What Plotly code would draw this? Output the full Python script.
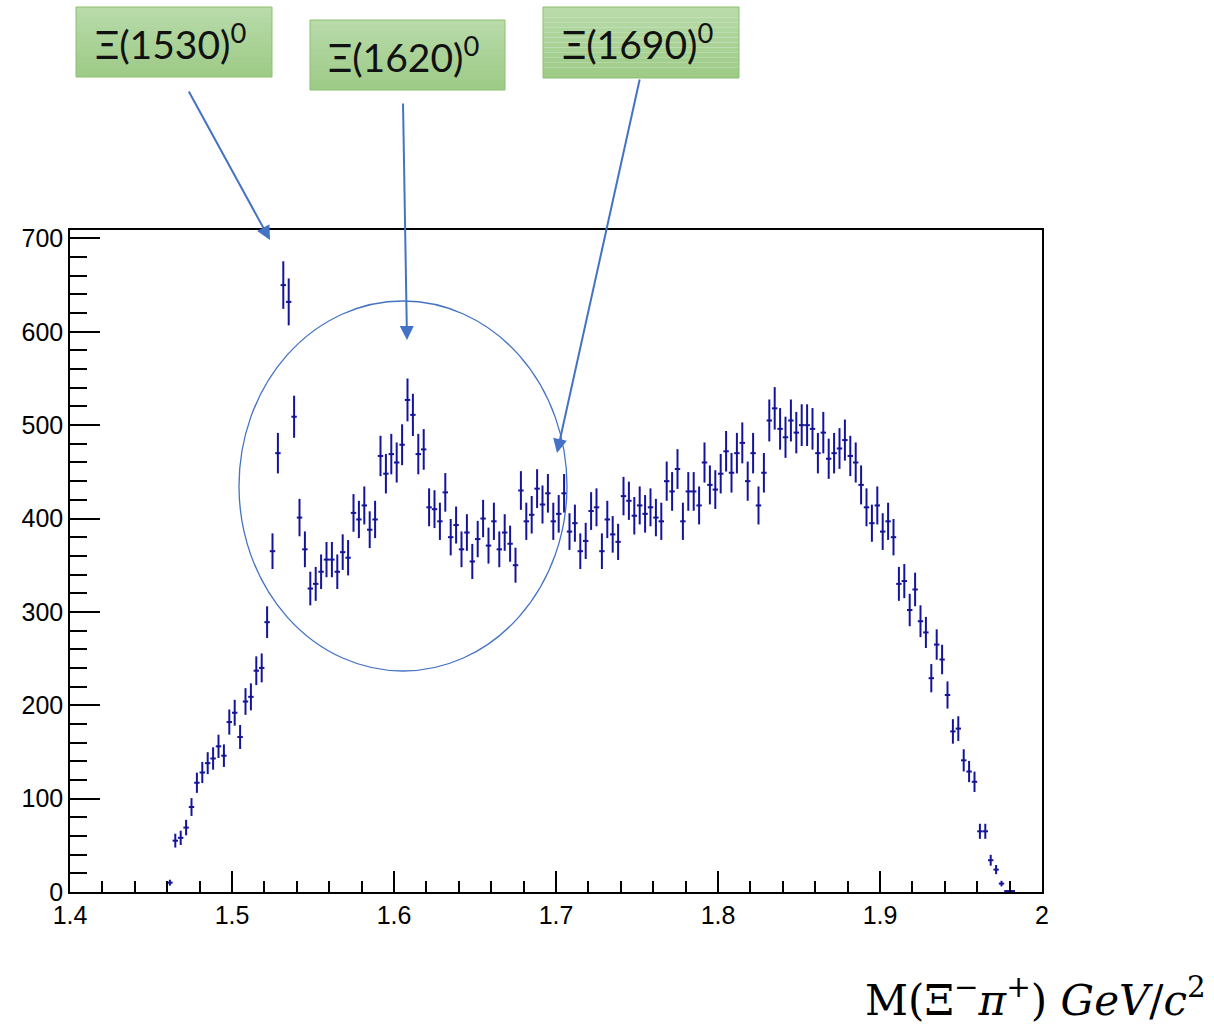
import numpy as np
import plotly.graph_objects as go

# Histogram binning of the Xi- pi+ invariant mass
X_MIN, X_MAX, N_BINS = 1.4, 2.0, 180
FIRST_BIN = 18

# Entries per bin, starting at FIRST_BIN
counts = [
    10, 55, 58, 69, 91, 117, 128, 138, 143, 156,
    146, 182, 192, 166, 204, 209, 237, 240, 289, 365,
    470, 650, 632, 509, 401, 367, 325, 330, 343, 356,
    356, 343, 364, 358, 406, 399, 414, 388, 399, 467,
    448, 469, 460, 479, 527, 511, 469, 474, 412, 410,
    397, 428, 380, 393, 367, 385, 354, 378, 400, 371,
    397, 367, 385, 373, 350, 430, 397, 404, 432, 415,
    427, 397, 405, 427, 386, 395, 365, 376, 408, 412,
    365, 399, 383, 375, 424, 419, 403, 414, 405, 412,
    401, 397, 440, 429, 453, 397, 429, 429, 414, 460,
    436, 431, 448, 472, 449, 470, 481, 440, 470, 414,
    449, 505, 518, 496, 487, 505, 492, 500, 500, 496,
    470, 492, 464, 470, 475, 484, 467, 460, 436, 412,
    395, 414, 386, 397, 380, 330, 333, 302, 324, 290,
    278, 229, 265, 249, 211, 172, 175, 141, 129, 118,
    65, 65, 34, 24, 9, 1, 1,
]

x_ticks = [1.4, 1.5, 1.6, 1.7, 1.8, 1.9, 2.0]
x_tick_text = ["1.4", "1.5", "1.6", "1.7", "1.8", "1.9", "2"]
y_ticks = [0, 100, 200, 300, 400, 500, 600, 700]

states = ["Ξ(1530)<sup>0</sup>", "Ξ(1620)<sup>0</sup>", "Ξ(1690)<sup>0</sup>"]

HIST_COLOR = "#14149a"
NOTE_BLUE = "#4472c4"

bin_w = (X_MAX - X_MIN) / N_BINS
idx = np.arange(FIRST_BIN, FIRST_BIN + len(counts))
centers = X_MIN + (idx + 0.5) * bin_w
y = np.array(counts, dtype=float)
err = np.sqrt(y)

fig = go.Figure()
fig.add_trace(go.Scatter(
    x=centers, y=y, mode="markers",
    marker=dict(size=1, color=HIST_COLOR),
    error_x=dict(type="constant", value=bin_w / 2, width=0, thickness=2, color=HIST_COLOR),
    error_y=dict(type="data", array=err, width=0, thickness=2, color=HIST_COLOR),
    showlegend=False, hoverinfo="x+y",
))

# page geometry (pixels) of the plotting frame
W, H = 1214, 1026
L, R, T, B = 70, 1042, 230, 892


def px(xp):
    return (xp - L) / (R - L)


def py(yp):
    return (B - yp) / (B - T)


shapes = []
annotations = []

# green label boxes with a soft vertical gradient
boxes = [(76, 7, 272, 77), (310, 20, 505, 90), (543, 7, 739, 78)]
top_rgb = np.array([185, 219, 170])
bot_rgb = np.array([158, 203, 136])
n_strips = 14
for (x0, y0, x1, y1), label in zip(boxes, states):
    for k in range(n_strips):
        f = k / (n_strips - 1)
        c = (top_rgb * (1 - f) + bot_rgb * f).astype(int)
        ya = y0 + (y1 - y0) * k / n_strips
        yb = y0 + (y1 - y0) * (k + 1) / n_strips
        shapes.append(dict(
            type="rect", xref="paper", yref="paper",
            x0=px(x0), x1=px(x1), y0=py(yb), y1=py(ya),
            fillcolor=f"rgb({c[0]},{c[1]},{c[2]})", line=dict(width=0), layer="above",
        ))
    shapes.append(dict(
        type="rect", xref="paper", yref="paper",
        x0=px(x0), x1=px(x1), y0=py(y1), y1=py(y0),
        fillcolor="rgba(0,0,0,0)", line=dict(color="#8cbf70", width=1), layer="above",
    ))
    annotations.append(dict(
        xref="paper", yref="paper", x=px((x0 + x1) / 2 - 4), y=py((y0 + y1) / 2 - 1),
        text=label, showarrow=False, xanchor="center", yanchor="middle",
        font=dict(family="Lato", size=39, color="#111111"),
    ))

# ellipse around the excited-state region
shapes.append(dict(
    type="circle", xref="paper", yref="paper",
    x0=px(239), x1=px(567), y0=py(671), y1=py(301),
    line=dict(color=NOTE_BLUE, width=1.3), layer="above",
))

# arrows from the labels to the peaks (tip, tail in pixels)
arrows = [((270, 240), (188, 90)), ((407, 340), (403, 102)), ((557, 453), (640, 78))]
for (tx, ty), (sx, sy) in arrows:
    annotations.append(dict(
        xref="paper", yref="paper", x=px(tx), y=py(ty),
        ax=sx - tx, ay=sy - ty, text="", showarrow=True,
        arrowhead=2, arrowsize=1.4, arrowwidth=2, arrowcolor=NOTE_BLUE, standoff=0,
    ))

# axis title
annotations.append(dict(
    xref="paper", yref="paper", x=px(1208), y=py(997),
    text="M(Ξ<sup>−</sup><i>π</i><sup>+</sup>) <i>GeV</i>/<i>c</i><sup>2</sup>",
    showarrow=False, xanchor="right", yanchor="middle",
    font=dict(family="DejaVu Serif", size=42, color="#000000"),
))

axis_font = dict(family="Liberation Sans", size=25, color="#000000")

fig.update_layout(
    width=W, height=H,
    margin=dict(l=L, r=W - R, t=T, b=H - B, pad=0),
    paper_bgcolor="white", plot_bgcolor="white",
    shapes=shapes, annotations=annotations,
    xaxis=dict(
        range=[X_MIN, X_MAX], tickvals=x_ticks, ticktext=x_tick_text,
        ticks="inside", ticklen=21, tickwidth=1.5, tickcolor="black",
        minor=dict(dtick=0.02, tick0=1.4, ticks="inside", ticklen=11, tickwidth=1.5, tickcolor="black"),
        showline=True, linecolor="black", linewidth=1.5, mirror=True,
        showgrid=False, zeroline=False, tickfont=axis_font,
    ),
    yaxis=dict(
        range=[0, 709], tickvals=y_ticks,
        ticks="inside", ticklen=30, tickwidth=1.5, tickcolor="black",
        minor=dict(dtick=20, tick0=0, ticks="inside", ticklen=17, tickwidth=1.5, tickcolor="black"),
        showline=True, linecolor="black", linewidth=1.5, mirror=True,
        showgrid=False, zeroline=False, tickfont=axis_font,
    ),
)

fig.write_html("out.html")
